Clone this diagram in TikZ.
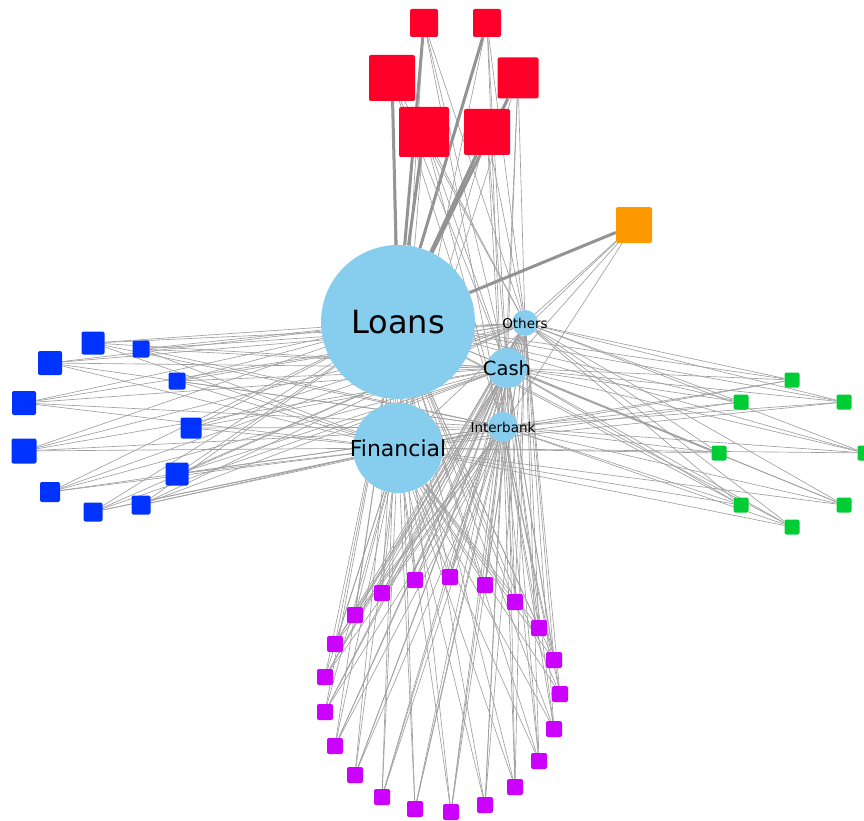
\documentclass[tikz,border=0pt]{standalone}
\usepackage{fontspec}
\setmainfont{DejaVu Sans}
\usetikzlibrary{backgrounds}
\definecolor{hubblue}{RGB}{135,206,238}
\definecolor{redsq}{RGB}{255,0,42}
\definecolor{bluesq}{RGB}{0,51,255}
\definecolor{greensq}{RGB}{0,204,51}
\definecolor{purplesq}{RGB}{204,0,255}
\definecolor{orangesq}{RGB}{255,153,0}
\tikzset{
  hub/.style={circle, fill=hubblue, inner sep=0pt},
  sq/.style={rectangle, rounded corners=2pt, inner sep=0pt},
  link/.style={draw=gray!75, line width=0.65pt},
  heavylink/.style={draw=gray!85, line width=3pt},
}

\begin{document}
\begin{tikzpicture}[x=1pt, y=-1pt]
				\useasboundingbox (0,0) rectangle (864,821);
				% Central asset classes
				\node[hub, minimum size=154pt, label={[font=\fontsize{32}{32}\selectfont]center:Loans}] (L) at (398,322) {};
				\node[hub, minimum size=90pt, label={[font=\fontsize{22}{22}\selectfont]center:Financial}] (F) at (398,448) {};
				\node[hub, minimum size=40pt, label={[font=\fontsize{19.5}{19.5}\selectfont]center:Cash}] (C) at (507,368) {};
				\node[hub, minimum size=26pt, label={[font=\fontsize{13.5}{13.5}\selectfont]center:Others}] (O) at (525,323) {};
				\node[hub, minimum size=30pt, label={[font=\fontsize{13.5}{13.5}\selectfont]center:Interbank}] (I) at (503,427) {};
				% Red group
				\node[sq, fill=redsq, minimum size=28pt] (r1) at (424,23) {};
				\node[sq, fill=redsq, minimum size=28pt] (r2) at (487,23) {};
				\node[sq, fill=redsq, minimum size=46pt] (r3) at (392,78) {};
				\node[sq, fill=redsq, minimum size=41pt] (r4) at (518,78) {};
				\node[sq, fill=redsq, minimum size=50pt] (r5) at (424,132) {};
				\node[sq, fill=redsq, minimum size=46pt] (r6) at (487,132) {};
				% Orange
				\node[sq, fill=orangesq, minimum size=36pt] (o1) at (634,225) {};
				% Blue group
				\node[sq, fill=bluesq, minimum size=23pt] (b1) at (93,343) {};
				\node[sq, fill=bluesq, minimum size=24pt] (b2) at (50,363) {};
				\node[sq, fill=bluesq, minimum size=17pt] (b3) at (141,349) {};
				\node[sq, fill=bluesq, minimum size=17pt] (b4) at (177,381) {};
				\node[sq, fill=bluesq, minimum size=24pt] (b5) at (24,403) {};
				\node[sq, fill=bluesq, minimum size=21pt] (b6) at (191,428) {};
				\node[sq, fill=bluesq, minimum size=25pt] (b7) at (24,451) {};
				\node[sq, fill=bluesq, minimum size=23pt] (b8) at (177,474) {};
				\node[sq, fill=bluesq, minimum size=20pt] (b9) at (50,492) {};
				\node[sq, fill=bluesq, minimum size=19pt] (b10) at (141,505) {};
				\node[sq, fill=bluesq, minimum size=19pt] (b11) at (93,512) {};
				% Green group
				\node[sq, fill=greensq, minimum size=15pt] (g1) at (792,380) {};
				\node[sq, fill=greensq, minimum size=15pt] (g2) at (741,402) {};
				\node[sq, fill=greensq, minimum size=15pt] (g3) at (844,402) {};
				\node[sq, fill=greensq, minimum size=15pt] (g4) at (719,453) {};
				\node[sq, fill=greensq, minimum size=15pt] (g5) at (865,453) {};
				\node[sq, fill=greensq, minimum size=15pt] (g6) at (741,505) {};
				\node[sq, fill=greensq, minimum size=15pt] (g7) at (844,505) {};
				\node[sq, fill=greensq, minimum size=15pt] (g8) at (792,527) {};
				% Purple group
				\foreach \i/\x/\y in {1/415/580, 2/450/577, 3/485/585, 4/382/593, 5/515/602, 6/355/615, 7/539/628,
				                      8/335/644, 9/554/660, 10/325/677, 11/560/694, 12/325/712, 13/554/729, 14/335/746,
				                      15/539/761, 16/355/775, 17/515/787, 18/382/797, 19/485/805, 20/415/809, 21/451/812}
				  \node[sq, fill=purplesq, minimum size=16pt] (p\i) at (\x,\y) {};
				% Links to the asset classes
				\begin{scope}[on background layer]
				  \foreach \i in {1,...,6} {
				    \draw[heavylink] (r\i) -- (L);
				    \foreach \h in {F,C,O,I} \draw[link] (r\i) -- (\h);
				  }
				  \draw[heavylink] (o1) -- (L);
				  \foreach \h in {F,C,O,I} \draw[link] (o1) -- (\h);
				  \foreach \i in {1,...,11}
				    \foreach \h in {L,F,C,O,I} \draw[link] (b\i) -- (\h);
				  \foreach \i in {1,...,8}
				    \foreach \h in {L,F,C,O,I} \draw[link] (g\i) -- (\h);
				  \foreach \i in {1,...,21}
				    \foreach \h in {L,F,C,O,I} \draw[link] (p\i) -- (\h);
				\end{scope}
			\end{tikzpicture}
\end{document}
